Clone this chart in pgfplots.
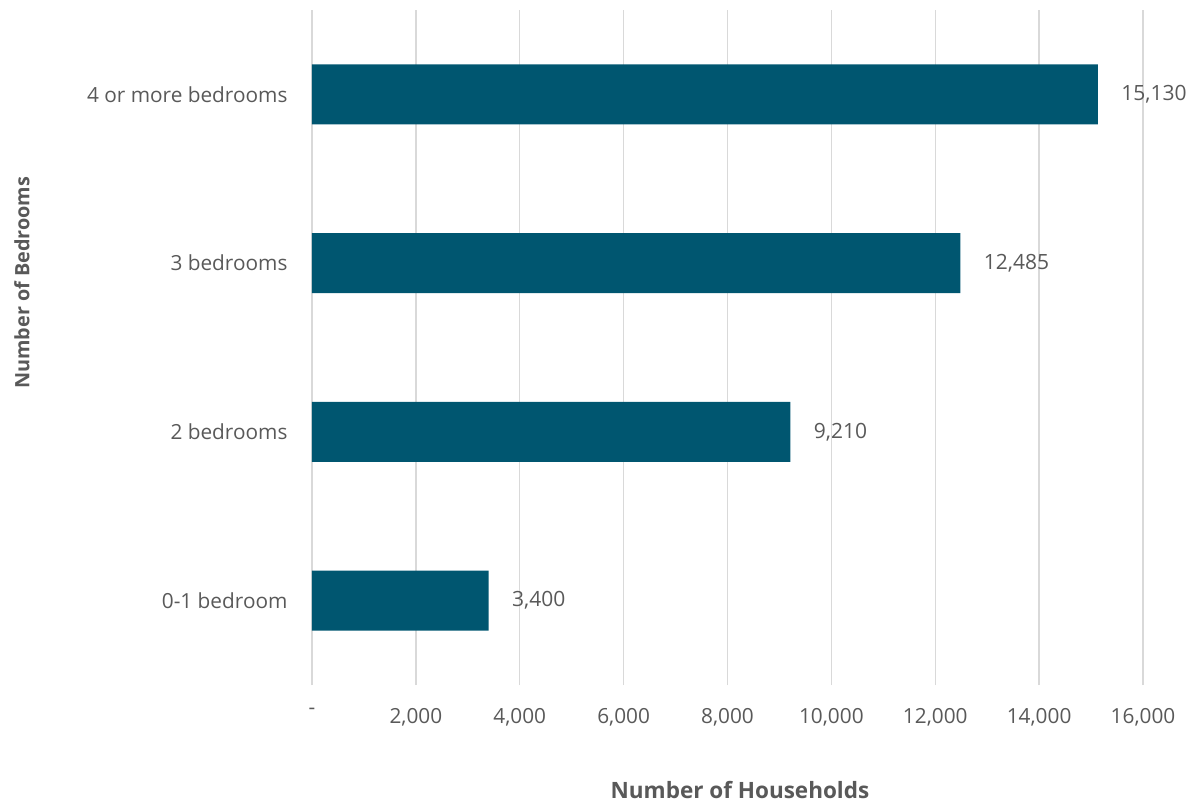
\documentclass[border=0pt]{standalone}
\usepackage{pgfplots}
\pgfplotsset{compat=1.18}
\usepackage{fontspec}
\setmainfont{Open Sans}
\definecolor{barc}{RGB}{0,86,112}
\definecolor{txt}{RGB}{89,89,89}
\definecolor{gridc}{RGB}{217,217,217}
\begin{document}
\begin{tikzpicture}
\begin{axis}[
  scale only axis,
  width=831pt, height=675pt,
  xbar, bar width=60pt,
  xmin=0, xmax=16000,
  ymin=-0.5, ymax=3.5,
  scaled x ticks=false,
  ytick={0,1,2,3},
  yticklabels={0-1 bedroom,2 bedrooms,3 bedrooms,4 or more bedrooms},
  xtick={0,2000,4000,6000,8000,10000,12000,14000,16000},
  xticklabels={-,{2,000},{4,000},{6,000},{8,000},{10,000},{12,000},{14,000},{16,000}},
  axis line style={draw=none},
  major tick length=0pt,
  xmajorgrids, grid style={gridc, line width=1.5pt},
  tick label style={font=\fontsize{20.8}{24}\selectfont, text=txt},
  yticklabel style={xshift=-21pt},
  xticklabel style={yshift=-20pt},
  xlabel={Number of Households},
  xlabel style={font=\fontsize{22.5}{26}\selectfont\bfseries, text=txt, at={(axis description cs:0.515,-0.1556)}, anchor=center},
  ylabel={Number of Bedrooms},
  ylabel style={font=\fontsize{19.8}{24}\selectfont\bfseries, text=txt, at={(axis description cs:-0.349,0.596)}, anchor=center},
  nodes near coords,
  nodes near coords style={font=\fontsize{21}{24}\selectfont, text=txt, anchor=west, xshift=20pt,
    /pgf/number format/.cd, fixed, 1000 sep={,}, assume math mode=true},
  /pgf/number format/assume math mode=true,
]
\addplot[fill=barc, draw=none] coordinates {(3400,0) (9210,1) (12485,2) (15130,3)};
\end{axis}
\useasboundingbox (-312pt,-116pt) rectangle (885pt,685pt);
\end{tikzpicture}
\end{document}
